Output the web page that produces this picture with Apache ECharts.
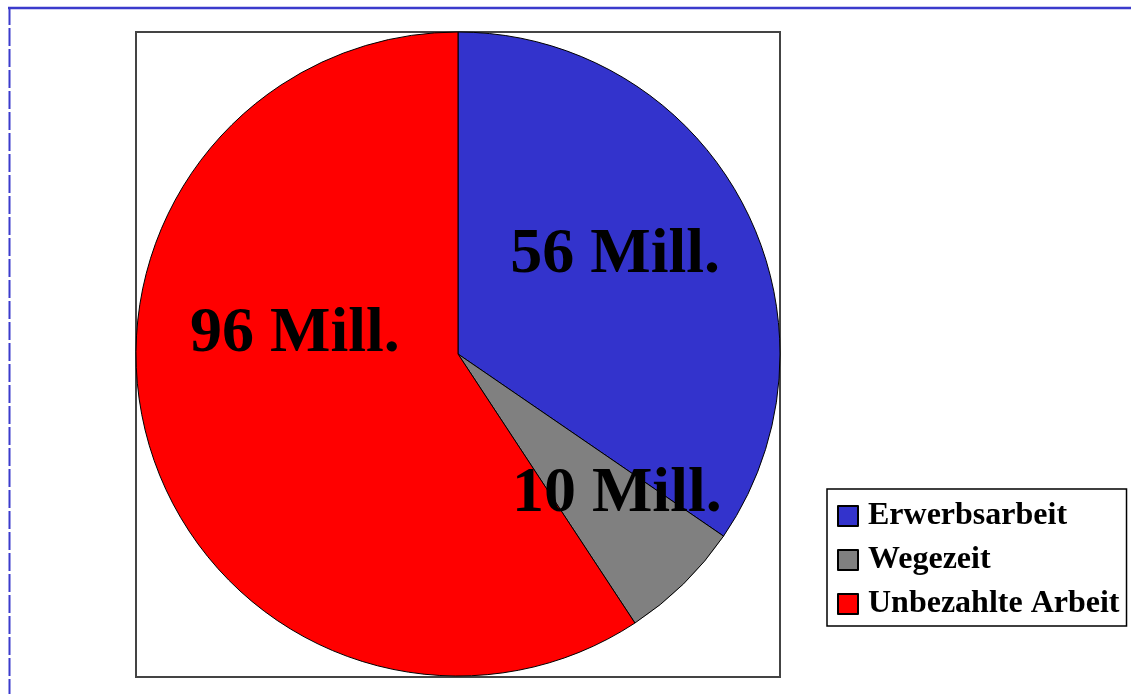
<!DOCTYPE html>
<html>
<head>
<meta charset="utf-8">
<script src="https://cdn.jsdelivr.net/npm/echarts@6/dist/echarts.min.js"></script>
<style>
html,body{margin:0;padding:0;background:#fff;}
#chart{width:1131px;height:694px;}
</style>
</head>
<body>
<div id="chart"></div>
<script>
const categories = ['Erwerbsarbeit', 'Wegezeit', 'Unbezahlte Arbeit'];
const values = [56, 10, 96];
const labelTexts = ['56 Mill.', '10 Mill.', '96 Mill.'];
const colors = ['#3333CC', '#808080', '#FF0000'];
// horizontal label shift paddings [top, right, bottom, left]
const labelPads = [[0, 0, 0, 24], [0, 0, 0, 88], [0, 12, 0, 0]];
// vertical label spacer: negative = spacer below (moves text up), positive = spacer above (moves down)
const labelSpacers = [-44, 46, -134];

const FONT = '"Liberation Serif", "Times New Roman", serif';

const chart = echarts.init(document.getElementById('chart'), null, {renderer: 'canvas'});

const data = categories.map((c, i) => ({
  name: c,
  value: values[i],
  itemStyle: {color: colors[i]},
  label: {
    padding: labelPads[i],
    formatter: labelSpacers[i] < 0
      ? '{a|' + labelTexts[i] + '}\n{s' + i + '| }'
      : '{s' + i + '| }\n{a|' + labelTexts[i] + '}'
  }
}));

const rich = {a: {fontFamily: FONT, fontWeight: 'bold', fontSize: 64, lineHeight: 64, color: '#000'}};
labelSpacers.forEach((s, i) => { rich['s' + i] = {fontSize: 1, lineHeight: Math.abs(s)}; });

chart.setOption({
  animation: false,
  backgroundColor: '#fff',
  legend: {
    orient: 'vertical',
    left: 827,
    top: 489,
    data: categories,
    icon: 'rect',
    itemWidth: 20,
    itemHeight: 20,
    itemGap: 12,
    padding: [11, 7, 6, 10],
    borderColor: '#000',
    borderWidth: 1.5,
    textStyle: {fontFamily: FONT, fontWeight: 'bold', fontSize: 32, color: '#000', padding: [0, 0, 0, 5]}
  },
  graphic: [
    {type: 'rect', shape: {x: 136, y: 32, width: 644, height: 645}, style: {fill: 'none', stroke: '#444', lineWidth: 2}, z: -1},
    {type: 'line', shape: {x1: 8, y1: 8, x2: 1131, y2: 8}, style: {stroke: '#3b3bcc', lineWidth: 2.5}},
    {type: 'line', shape: {x1: 9.5, y1: 7, x2: 9.5, y2: 694}, style: {stroke: '#3b3bcc', lineWidth: 2, lineDash: [18, 3]}}
  ],
  series: [{
    type: 'pie',
    center: [458, 354],
    radius: 322,
    startAngle: 90,
    clockwise: true,
    avoidLabelOverlap: false,
    itemStyle: {borderColor: '#000', borderWidth: 1},
    emphasis: {disabled: true},
    label: {
      show: true,
      position: 'inside',
      rotate: 0,
      rich: rich,
      fontFamily: FONT,
      fontWeight: 'bold',
      fontSize: 64,
      color: '#000'
    },
    labelLine: {show: false},
    data: data
  }]
});
</script>
</body>
</html>
